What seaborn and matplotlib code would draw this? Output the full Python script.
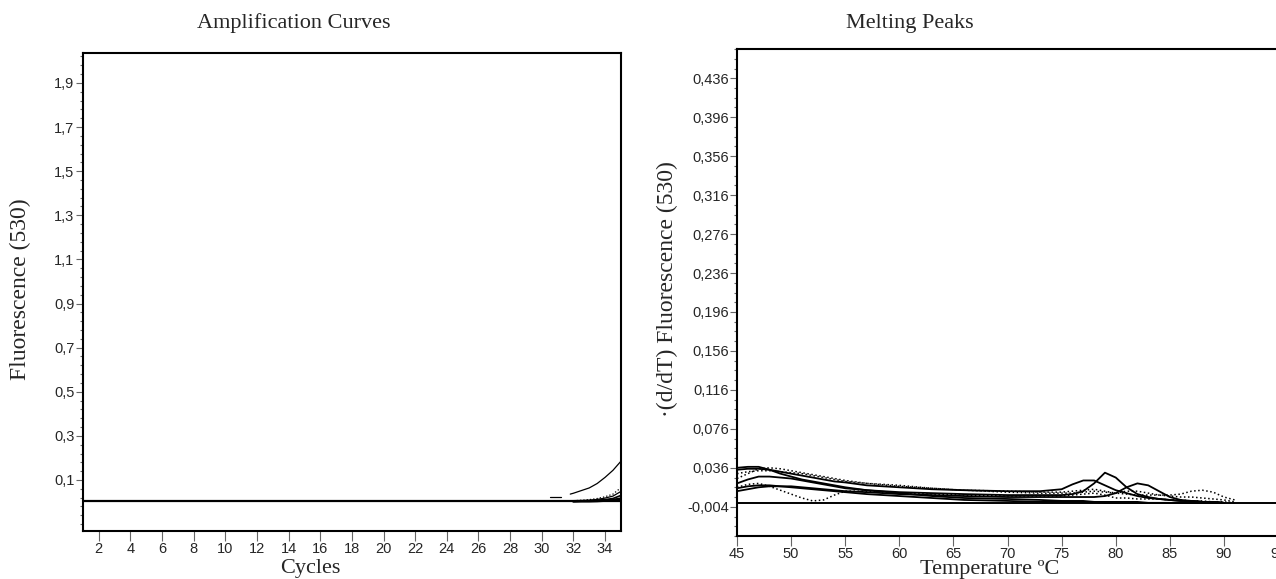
import numpy as np
import pandas as pd
import matplotlib
matplotlib.use("Agg")
import matplotlib.pyplot as plt
import seaborn as sns
from matplotlib.ticker import FuncFormatter, AutoMinorLocator

# ---- amplification curves (cycles) ----
cycles_tail = [32, 32.5, 33, 33.5, 34, 34.5, 35]
amp_main = [0.040, 0.052, 0.064, 0.084, 0.112, 0.144, 0.185]
amp_low1 = [0.006, 0.008, 0.011, 0.016, 0.024, 0.036, 0.065]
amp_low2 = [0.005, 0.006, 0.008, 0.012, 0.018, 0.027, 0.048]
amp_low3 = [0.004, 0.005, 0.006, 0.008, 0.011, 0.016, 0.030]
amp_low4 = [0.003, 0.004, 0.004, 0.005, 0.007, 0.009, 0.015]
dash_cycles = [30.5, 31.2]
dash_vals = [0.022, 0.022]
amp_yticks = [0.1, 0.3, 0.5, 0.7, 0.9, 1.1, 1.3, 1.5, 1.7, 1.9]
amp_xticks = list(range(2, 35, 2))

# ---- melting peaks (temperature) ----
temps = [45, 46, 47, 48, 49, 50, 51, 52, 53, 54, 55, 57, 60, 63, 66, 70, 73, 75,
         76, 77, 78, 79, 80, 81, 82, 83, 84, 85, 86, 87, 88, 89, 90, 91]
melt_c1 = [.036, .037, .037, .034, .030, .027, .024, .022, .020, .018, .016, .013, .010, .007, .005, .004, .003, .002,
           .002, .002, .001, .001, .001, .001, .001, .000, .000, .000, .000, .000, .000, .000, .000, .000]
melt_c2 = [.034, .035, .035, .034, .032, .030, .028, .026, .024, .022, .021, .018, .016, .014, .013, .012, .012, .014,
           .019, .023, .023, .018, .013, .010, .007, .005, .004, .003, .002, .002, .001, .001, .000, .000]
melt_c3 = [.020, .024, .027, .027, .026, .025, .023, .021, .019, .017, .015, .013, .011, .010, .009, .008, .008, .008,
           .009, .012, .020, .031, .026, .016, .009, .006, .004, .003, .002, .002, .001, .001, .000, .000]
melt_c4 = [.015, .017, .018, .018, .017, .017, .016, .015, .014, .013, .012, .011, .009, .008, .007, .006, .006, .006,
           .006, .006, .006, .007, .010, .016, .020, .018, .012, .006, .003, .002, .001, .001, .000, .000]
melt_c5 = [.025, .030, .035, .036, .035, .033, .031, .029, .027, .025, .023, .020, .018, .015, .013, .011, .010, .010,
           .010, .011, .012, .011, .010, .009, .008, .008, .008, .008, .009, .012, .013, .011, .006, .003]
melt_c6 = [.016, .019, .020, .017, .013, .009, .005, .002, .003, .008, .012, .012, .010, .009, .008, .007, .007, .007,
           .008, .009, .010, .008, .005, .005, .004, .004, .004, .003, .003, .002, .002, .001, .001, .000]
melt_c7 = [.012, .014, .016, .017, .017, .016, .015, .014, .013, .012, .011, .009, .007, .005, .003, .002, .001, .001,
           .001, .001, .001, .000, .000, .000, .000, .000, .000, .000, .000, .000, .000, .000, .000, .000]
melt_c8 = [.030, .032, .033, .033, .032, .031, .030, .028, .026, .024, .022, .020, .017, .015, .013, .012, .011, .011,
           .012, .013, .014, .012, .010, .012, .012, .010, .008, .007, .006, .006, .005, .004, .003, .001]
melt_yticks = [-0.004, 0.036, 0.076, 0.116, 0.156, 0.196, 0.236, 0.276, 0.316, 0.356, 0.396, 0.436]
melt_xticks = list(range(45, 100, 5))

sns.set_style("white")
plt.rcParams['font.family'] = ['Liberation Sans Narrow', 'Liberation Sans', 'DejaVu Sans']

fig = plt.figure(figsize=(12.76, 5.79), dpi=100)
ax1 = fig.add_axes([0.065, 0.083, 0.4216, 0.8256])
ax2 = fig.add_axes([0.5776, 0.0743, 0.4325, 0.841])

# amplification
ax1.axhline(0.004, color='black', lw=1.6)
sns.lineplot(x=dash_cycles, y=dash_vals, ax=ax1, color='black', lw=0.9)
sns.lineplot(x=[31.8] + cycles_tail, y=[0.036] + amp_main, ax=ax1, color='black', lw=0.9)
sns.lineplot(x=cycles_tail, y=amp_low1, ax=ax1, color='black', lw=0.9, linestyle=':')
sns.lineplot(x=cycles_tail, y=amp_low2, ax=ax1, color='black', lw=0.9)
sns.lineplot(x=cycles_tail, y=amp_low3, ax=ax1, color='black', lw=1.2)
sns.lineplot(x=cycles_tail, y=amp_low4, ax=ax1, color='black', lw=2.0)
ax1.set_xlim(1, 35)
ax1.set_ylim(-0.131, 2.036)
ax1.set_xticks(amp_xticks)
ax1.set_yticks(amp_yticks)
ax1.yaxis.set_minor_locator(AutoMinorLocator(5))
ax1.yaxis.set_major_formatter(FuncFormatter(lambda v, p: f"{v:.1f}".replace('.', ',')))

# melting
ax2.axhline(0.0, color='black', lw=1.4)
melt = {'c1': (melt_c1, '-'), 'c2': (melt_c2, '-'), 'c3': (melt_c3, '-'), 'c4': (melt_c4, '-'),
        'c5': (melt_c5, ':'), 'c6': (melt_c6, ':'), 'c7': (melt_c7, '-'), 'c8': (melt_c8, ':')}
for name, (vals, ls) in melt.items():
    n = len(temps) - 1 if ls == '-' else len(temps)
    sns.lineplot(x=temps[:n], y=vals[:n], ax=ax2, color='black',
                 lw=1.3 if ls == '-' else 1.1, linestyle=ls)
ax2.set_xlim(45, 96)
ax2.set_ylim(-0.034, 0.466)
ax2.set_xticks(melt_xticks)
ax2.set_yticks(melt_yticks)
ax2.yaxis.set_minor_locator(AutoMinorLocator(4))
ax2.yaxis.set_major_formatter(FuncFormatter(lambda v, p: f"{v:.3f}".replace('.', ',')))

for ax in (ax1, ax2):
    for s in ax.spines.values():
        s.set_color('black')
        s.set_linewidth(1.5)
        s.set_visible(True)
    ax.tick_params(which='major', direction='out', length=5, width=0.8, color='#666666',
                   labelsize=10.5, pad=1, left=True, bottom=True)
    ax.tick_params(axis='x', which='major', length=7)
    ax.tick_params(which='minor', direction='out', length=2, width=0.8, color='#666666', left=True)
    ax.set_xlabel('')
    ax.set_ylabel('')
    ax.grid(False)

serif = ['Liberation Serif', 'DejaVu Serif']
fig.text(0.230, 0.960, 'Amplification Curves', ha='center', va='center', fontsize=16, family=serif)
fig.text(0.713, 0.960, 'Melting Peaks', ha='center', va='center', fontsize=16, family=serif)
fig.text(0.243, 0.018, 'Cycles', ha='center', va='center', fontsize=16, family=serif)
fig.text(0.776, 0.016, 'Temperature ºC', ha='center', va='center', fontsize=16, family=serif)
fig.text(0.016, 0.50, 'Fluorescence (530)', ha='center', va='center', rotation=90, fontsize=17, family=serif)
fig.text(0.523, 0.50, '·(d/dT) Fluorescence (530)', ha='center', va='center', rotation=90, fontsize=17, family=serif)

fig.savefig('out.png', dpi=100)
